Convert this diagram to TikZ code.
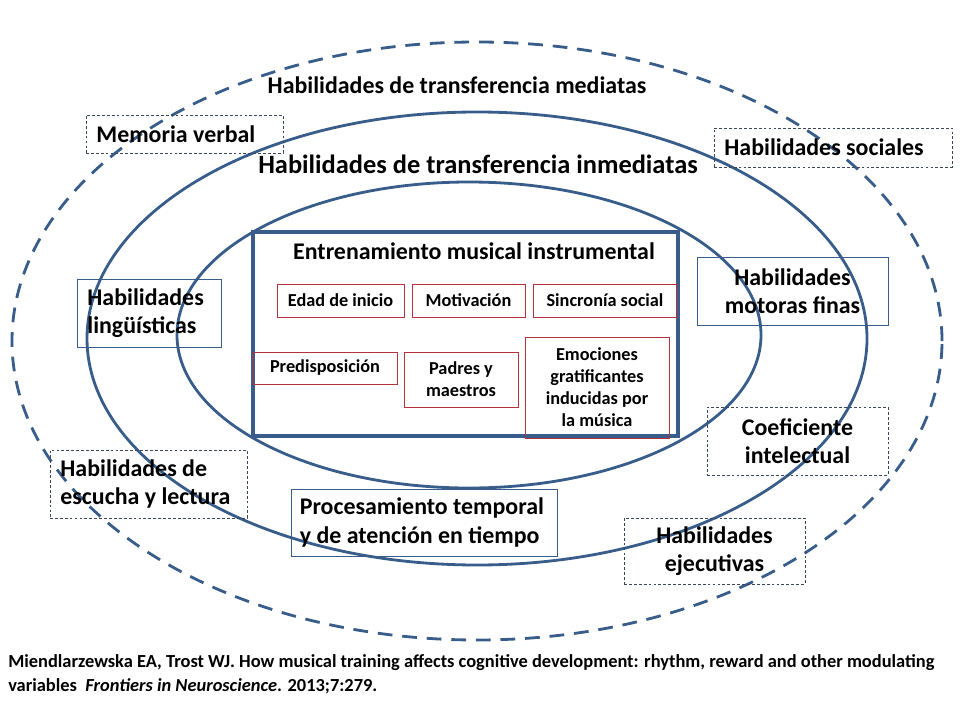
\documentclass[tikz,border=0pt]{standalone}
\usepackage{fontspec}
\setmainfont{Carlito}
\usepackage{tikz}
\usetikzlibrary{positioning}
\definecolor{ringblue}{RGB}{56,93,138}
\definecolor{boxred}{RGB}{180,50,60}
\definecolor{dashgray}{RGB}{60,70,90}

\begin{document}
\begin{tikzpicture}[
  font=\bfseries,
  ring/.style={draw=ringblue, line width=2pt},
  dashedring/.style={ring, dash pattern=on 10.5pt off 7pt},
  skillbox/.style={draw=ringblue, line width=0.7pt, inner xsep=0.26cm, inner ysep=0pt,
    font=\fontsize{17}{20}\selectfont\bfseries},
  dashedbox/.style={skillbox, draw=dashgray, line width=0.5pt, dash pattern=on 2pt off 1.5pt},
  factor/.style={draw=boxred, line width=0.6pt, align=center, inner sep=0pt,
    minimum height=0.825cm, font=\fontsize{13}{15.6}\selectfont\bfseries},
  heading/.style={font=\fontsize{17}{20}\selectfont\bfseries}
]
\useasboundingbox (0,0) rectangle (24,18);

% Rings
\draw[dashedring] (11.925,9.475) ellipse [x radius=11.625, y radius=7.475];
\draw[ring] (11.925,9.5375) ellipse [x radius=9.75, y radius=5.6625];
\draw[ring] (11.725,9.625) ellipse [x radius=7.3, y radius=3.825];

% Training panel
\draw[ring, line width=2.2pt] (6.325,7.1) rectangle (16.95,12.2);
\node[heading] (train) at (11.85,11.725) {Entrenamiento musical instrumental};

\node[factor, minimum width=3.175cm] (edad) at (8.5125,10.4875) {Edad de inicio};
\node[factor, minimum width=2.825cm] (motiv) at (11.7125,10.4875) {Motivación};
\node[factor, minimum width=3.6cm] (sincro) at (15.125,10.4875) {Sincronía social};
\node[factor, minimum width=3.6cm, minimum height=0.8cm] (predis) at (8.125,8.8) {Predisposición};
\node[factor, minimum width=2.85cm, minimum height=1.375cm] (padres) at (11.525,8.5125) {Padres y\\maestros};
\node[factor, minimum width=3.6cm, minimum height=2.525cm] (emoc) at (14.925,8.3125)
  {Emociones\\gratificantes\\inducidas por\\la música};

% Ring titles
\node[heading] (mediatas) at (11.425,15.875) {Habilidades de transferencia mediatas};
\node[heading, font=\fontsize{18.8}{22}\selectfont\bfseries] (inmediatas) at (11.95,13.9)
  {Habilidades de transferencia inmediatas};

% Skills
\node[dashedbox, align=flush left, text width=4.405cm, minimum height=0.95cm] (memoria) at (4.6125,14.65) {Memoria verbal};
\node[dashedbox, align=flush left, text width=5.43cm, minimum height=0.975cm] (sociales) at (20.825,14.3125) {Habilidades sociales};
\node[skillbox, align=flush left, text width=3.08cm, minimum height=1.7cm] (linguis) at (3.725,10.175) {Habilidades\\lingüísticas};
\node[skillbox, align=center, minimum width=4.775cm, minimum height=1.7cm] (motoras) at (19.8125,10.725) {Habilidades\\motoras finas};
\node[dashedbox, align=center, minimum width=4.525cm, minimum height=1.7cm] (coef) at (19.9375,6.975) {Coeficiente\\intelectual};
\node[dashedbox, align=flush left, text width=4.405cm, minimum height=1.7cm] (escucha) at (3.7125,5.9) {Habilidades de\\escucha y lectura};
\node[skillbox, align=flush left, inner xsep=0.22cm, text width=6.21cm, minimum height=1.675cm] (proces) at (10.6,4.9375)
  {\mbox{Procesamiento temporal}\\\mbox{y de atención en tiempo}};
\node[dashedbox, align=center, minimum width=4.525cm, minimum height=1.65cm] (ejec) at (17.8625,4.225) {Habilidades\\ejecutivas};

% Reference
\node[anchor=west, align=flush left, inner xsep=0pt, font=\fontsize{13.1}{17}\selectfont\bfseries] (cita) at (0.2,1.15)
{Miendlarzewska EA, Trost WJ. How musical training affects cognitive development: rhythm, reward and other modulating\\
variables \ \textit{Frontiers in Neuroscience}. 2013;7:279.};

\end{tikzpicture}
\end{document}
